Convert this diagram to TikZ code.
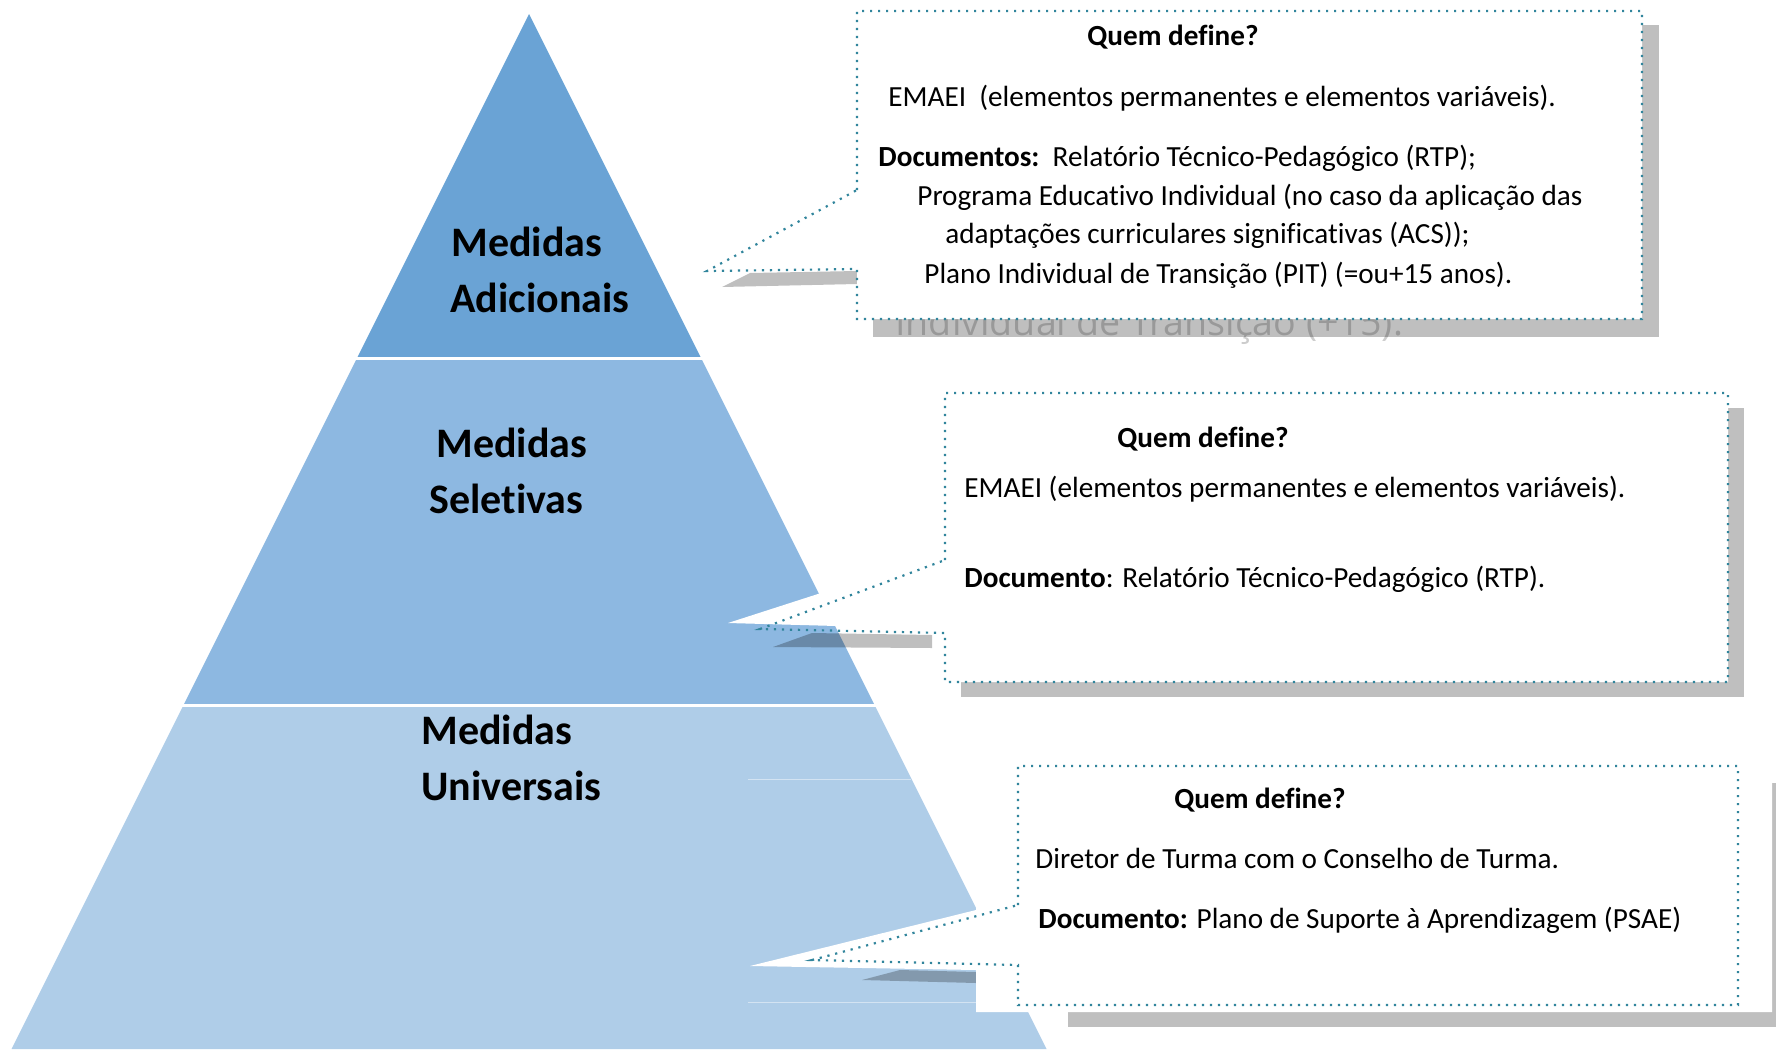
\documentclass[tikz,border=0pt]{standalone}
\usepackage{fontspec}
\setmainfont{Carlito}[Ligatures=NoCommon]
\newfontfamily\ghostfont{Open Sans}
\definecolor{bandtop}{HTML}{6AA3D5}
\definecolor{bandmid}{HTML}{8DB8E1}
\definecolor{bandlow}{HTML}{AFCDE8}
\definecolor{calloutteal}{HTML}{31859C}
\tikzset{
  callout/.style={draw=calloutteal, line width=1.1pt, dash pattern=on 1.1pt off 2.9pt},
  dropshadow/.style={fill=black, fill opacity=0.25},
  level/.style={anchor=base west, inner sep=0pt, font=\fontsize{21}{25}\selectfont\bfseries},
  boxtext/.style={anchor=base west, inner sep=0pt, font=\fontsize{14.6}{17}\selectfont},
}
\begin{document}
\begin{tikzpicture}[x=0.5pt, y=-0.5pt]
  \useasboundingbox (0,0) rectangle (1776,1049);
  % pyramid
  \fill[bandlow] (183.5,705) -- (874.5,705) -- (1046.5,1049) -- (11.5,1049) -- cycle;
  \fill[bandmid] (357,358) -- (701,358) -- (874.5,705) -- (183.5,705) -- cycle;
  \fill[bandtop] (529,14) -- (701,358) -- (357,358) -- cycle;
  \draw[white, line width=1.5pt] (354,358) -- (704,358) (181,705) -- (877,705);
  \draw[white, line width=0.5pt, draw opacity=0.45] (748,779) -- (911,779) (748,1002) -- (976,1002);
  \foreach \x/\y/\t [count=\i] in {451/256/Medidas, 450/312/Adicionais, 436/457/Medidas,
    429/513/Seletivas, 421/744/Medidas, 421/800/Universais}
    \node[level] (level\i) at (\x,\y) {\t};

  % callout 1
  \fill[dropshadow] (873,25) rectangle (1659,337);
  \fill[dropshadow] (722,287) -- (750,273) -- (857,271) -- (857,284) -- cycle;
  \node[anchor=base west, inner sep=0pt, text=black, text opacity=0.2,
    font=\ghostfont\fontsize{18.8}{22}\selectfont] (ghost) at (895,335) {Individual de Transição (+15).};
  \draw[callout, fill=white] (857,190) -- (857,11) -- (1642,11) -- (1642,319) -- (857,319)
    -- (857,269) -- (707,271) -- cycle;
  \foreach \x/\y/\t [count=\i] in {
    1087/46/{\textbf{Quem define?}},
    888/106/{EMAEI\ \ (elementos permanentes e elementos variáveis).},
    878/166/{\textbf{Documentos:}\ \ Relatório Técnico-Pedagógico (RTP);},
    917/205/{Programa Educativo Individual (no caso da aplicação das},
    945/243/{adaptações curriculares significativas (ACS));},
    924/283/{Plano Individual de Transição (PIT) (=ou+15 anos).}}
    \node[boxtext] (adicional\i) at (\x,\y) {\t};

  % callout 2
  \fill[dropshadow] (961,408) rectangle (1744,697);
  \fill[dropshadow] (773,647) -- (812,633) -- (932,635) -- (932,648) -- cycle;
  \fill[white] (945,393) rectangle (1728,682) (945,553) -- (728,623) -- (945,629) -- cycle;
  \draw[callout] (945,560) -- (945,393) -- (1728,393) -- (1728,682) -- (945,682)
    -- (945,633) -- (760,629) -- cycle;
  \foreach \x/\y/\t [count=\i] in {
    1117/447/{\textbf{Quem define?}},
    964/497/{EMAEI (elementos permanentes e elementos variáveis).},
    964/587/{\textbf{Documento}: Relatório Técnico-Pedagógico (RTP).}}
    \node[boxtext] (seletiva\i) at (\x,\y) {\t};

  % callout 3
  \fill[dropshadow] (1068,783) rectangle (1790,1027);
  \fill[dropshadow] (862,980) -- (900,970) -- (976,972) -- (976,983) -- cycle;
  \fill[white] (976,757) rectangle (1772,1012) (976,910) -- (750,966) -- (976,970) -- cycle;
  \draw[callout] (1018,905) -- (1018,766) -- (1738,766) -- (1738,1005) -- (1018,1005)
    -- (1018,965) -- (812,960) -- cycle;
  \foreach \x/\y/\t [count=\i] in {
    1174/808/{\textbf{Quem define?}},
    1035/868/{Diretor de Turma com o Conselho de Turma.},
    1038/928/{\textbf{Documento:} Plano de Suporte à Aprendizagem (PSAE)}}
    \node[boxtext] (universal\i) at (\x,\y) {\t};
\end{tikzpicture}
\end{document}
